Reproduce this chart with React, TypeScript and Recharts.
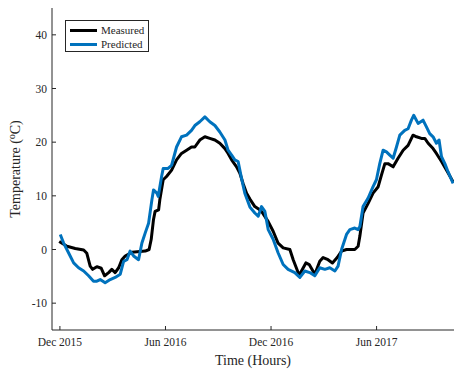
import React from 'react';
import { LineChart, Line, XAxis, YAxis } from 'recharts';

// x = months since Dec 2015, y = temperature (°C)
const monthTicks = [0, 6, 12, 18];
const monthLabels = ['Dec 2015', 'Jun 2016', 'Dec 2016', 'Jun 2017'];
const tempTicks = [-10, 0, 10, 20, 30, 40];

const measuredMonth = [
  -0.04, 0.4, 0.87, 1.35, 1.53, 1.72, 1.86, 2.1, 2.35, 2.54, 2.77, 2.95, 3.14, 3.34, 3.52, 3.71, 4.09, 4.85, 5.07,
  5.19, 5.32, 5.41, 5.61, 5.68, 5.87, 6.06, 6.35, 6.63, 6.91, 7.2, 7.48, 7.67, 7.95, 8.24, 8.52, 8.81, 9.09, 9.38,
  9.56, 9.76, 10.04, 10.23, 10.41, 10.61, 10.8, 11.08, 11.27, 11.48, 11.84, 12.12, 12.4, 12.69, 13.07, 13.26, 13.6,
  13.98, 14.17, 14.49, 14.77, 14.96, 15.24, 15.49, 15.76, 16.01, 16.29, 16.76, 16.95, 17.05, 17.23, 17.52, 17.8,
  18.09, 18.28, 18.47, 18.65, 18.94, 19.22, 19.51, 19.79, 20.07, 20.27, 20.55, 20.74, 20.93, 21.21, 21.4, 21.69,
  21.97, 22.35,
];
const measuredTemp = [
  1.5, 0.6, 0.2, -0.1, -0.7, -3.1, -3.7, -3.2, -3.5, -4.9, -4.3, -3.7, -4.3, -3.4, -1.9, -1.2, -0.5, -0.3, 0,
  1.9, 5.6, 7.1, 7.4, 9.3, 13, 13.6, 14.8, 16.7, 17.9, 18.5, 19.1, 19.1, 20.4, 21, 20.7, 20.4, 19.8, 18.8,
  17.9, 16.7, 15.4, 14.2, 12.3, 10.5, 9.4, 8, 7.6, 7.0, 5.2, 3.4, 1.2, 0.3, 0, -1.9, -4.8,
  -2.5, -2.8, -4.6, -2.2, -1.5, -1.9, -2.5, -1.5, -0.3, 0, 0, 0.6, 2.5, 6.8, 8.6, 10.5,
  11.7, 13.9, 16, 16, 15.4, 17, 18.5, 19.4, 21.3, 21, 20.7, 20.7, 19.8, 18.8, 17.9, 16.4,
  14.8, 12.6,
];

const predictedMonth = [
  0.02, 0.21, 0.49, 0.78, 1.06, 1.35, 1.63, 1.91, 2.1, 2.29, 2.57, 2.86, 3.14, 3.43, 3.62, 3.81, 3.99, 4.19, 4.47,
  4.66, 4.85, 5.04, 5.23, 5.32, 5.51, 5.59, 5.78, 5.87, 6.15, 6.35, 6.63, 6.91, 7.2, 7.48, 7.67, 7.95, 8.24, 8.52,
  8.81, 9.09, 9.38, 9.56, 9.76, 9.94, 10.13, 10.32, 10.51, 10.8, 11.08, 11.27, 11.46, 11.65, 11.84, 12.12, 12.4,
  12.69, 12.97, 13.35, 13.64, 13.92, 14.2, 14.49, 14.77, 15.06, 15.34, 15.63, 15.81, 16.01, 16.29, 16.48, 16.76,
  16.95, 17.05, 17.23, 17.52, 17.8, 17.99, 18.18, 18.37, 18.56, 18.75, 18.94, 19.13, 19.32, 19.6, 19.79, 19.98,
  20.11, 20.36, 20.64, 20.84, 21.02, 21.21, 21.4, 21.55, 21.69, 21.88, 22.06, 22.35,
];
const predictedTemp = [
  2.8, 1.2, -0.6, -2.5, -3.4, -4.0, -4.9, -5.9, -5.9, -5.6, -6.2, -5.6, -5.2, -4.6, -2.2, -1.9, -0.3, -1.2, -1.9,
  1.2, 3.1, 4.9, 9.3, 11.1, 10.5, 9.9, 13.6, 15.1, 15.1, 15.7, 19.1, 21, 21.3, 22.2, 23.1, 23.8, 24.7, 23.8,
  23.1, 21.9, 20.4, 18.5, 17.6, 16.7, 16.4, 13.3, 10.5, 7.9, 6.8, 6.2, 8, 7.1, 3.7, 1.9, -0.6,
  -2.8, -3.7, -4.3, -5.2, -4.0, -4.3, -4.9, -3.4, -3.7, -3.4, -4.0, -3.1, 0, 2.8, 3.7, 4.0,
  3.7, 4.3, 8, 9.6, 11.7, 13, 16, 18.5, 18.2, 17.6, 17, 19.1, 21.3, 22.2, 22.5, 24.1,
  25, 23.5, 24.1, 22.8, 21.6, 21, 19.8, 20.4, 17.3, 16, 14.5, 12.3,
];

const measured = measuredMonth.map((m, i) => ({ month: m, temp: measuredTemp[i] }));
const predicted = predictedMonth.map((m, i) => ({ month: m, temp: predictedTemp[i] }));

const AXIS = '#262626';
const FONT = '"Liberation Serif", "DejaVu Serif", serif';

const BottomTick = ({ x, y, payload }: any) => (
  <g>
    <line x1={x} y1={y} x2={x} y2={y - 4} stroke={AXIS} strokeWidth={1} />
    <text x={x} y={y + 16} textAnchor="middle" fill={AXIS} fontSize={11.5} fontFamily={FONT}>
      {monthLabels[monthTicks.indexOf(payload.value)]}
    </text>
  </g>
);

const TopTick = ({ x, y }: any) => <line x1={x} y1={y} x2={x} y2={y + 4} stroke={AXIS} strokeWidth={1} />;

const LeftTick = ({ x, y, payload }: any) => (
  <g>
    <line x1={x} y1={y} x2={x + 4} y2={y} stroke={AXIS} strokeWidth={1} />
    <text x={x - 5} y={y + 4} textAnchor="end" fill={AXIS} fontSize={11.5} fontFamily={FONT}>
      {payload.value}
    </text>
  </g>
);

const YTitle = ({ viewBox }: any) => {
  const cx = 20;
  const cy = viewBox ? viewBox.y + viewBox.height / 2 : 169;
  return (
    <text x={cx} y={cy} transform={`rotate(-90 ${cx} ${cy})`} textAnchor="middle" fill={AXIS} fontSize={14} fontFamily={FONT}>
      Temperature (<tspan fontSize={9.5} dy={-5}>o</tspan><tspan dy={5}>C)</tspan>
    </text>
  );
};

const XTitle = ({ viewBox }: any) => {
  const cx = viewBox ? viewBox.x + viewBox.width / 2 : 253;
  const cy = viewBox ? viewBox.y + 35 : 365;
  return (
    <text x={cx} y={cy} textAnchor="middle" fill={AXIS} fontSize={14} fontFamily={FONT}>
      Time (Hours)
    </text>
  );
};

const legendItems = [
  { name: 'Measured', color: '#000000' },
  { name: 'Predicted', color: '#0072BD' },
];

export default function App() {
  return (
    <div style={{ position: 'absolute', left: 0, top: 0, width: 454, height: 371, background: '#fff' }}>
      <LineChart width={454} height={371} margin={{ top: 8, right: 0, bottom: 0, left: 0 }}>
        <XAxis
          dataKey="month"
          type="number"
          domain={[-0.45, 22.4]}
          allowDataOverflow
          ticks={monthTicks}
          tickSize={0}
          tickMargin={0}
          tick={<BottomTick />}
          height={41}
          stroke={AXIS}
          label={<XTitle />}
        />
        <XAxis
          xAxisId="top"
          orientation="top"
          dataKey="month"
          type="number"
          domain={[-0.45, 22.4]}
          allowDataOverflow
          ticks={monthTicks}
          tickSize={0}
          tickMargin={0}
          tick={<TopTick />}
          height={0}
          stroke={AXIS}
        />
        <YAxis
          type="number"
          domain={[-15, 45]}
          allowDataOverflow
          ticks={tempTicks}
          tickSize={0}
          tickMargin={0}
          tick={<LeftTick />}
          width={52}
          stroke={AXIS}
          label={<YTitle />}
        />
        <Line data={measured} dataKey="temp" name="Measured" type="linear" stroke="#000000" strokeWidth={3} dot={false} isAnimationActive={false} strokeLinejoin="round" />
        <Line data={predicted} dataKey="temp" name="Predicted" type="linear" stroke="#0072BD" strokeWidth={3} dot={false} isAnimationActive={false} strokeLinejoin="round" />
      </LineChart>
      <div
        style={{
          position: 'absolute',
          left: 65,
          top: 20,
          width: 82,
          height: 30,
          border: `1px solid ${AXIS}`,
          background: '#fff',
          fontFamily: FONT,
          fontSize: 11,
          color: AXIS,
        }}
      >
        {legendItems.map((it, i) => (
          <div key={it.name} style={{ position: 'absolute', left: 4, top: 2 + i * 14, height: 14, display: 'flex', alignItems: 'center' }}>
            <div style={{ width: 27, height: 3, background: it.color, marginRight: 4 }} />
            <span>{it.name}</span>
          </div>
        ))}
      </div>
    </div>
  );
}
